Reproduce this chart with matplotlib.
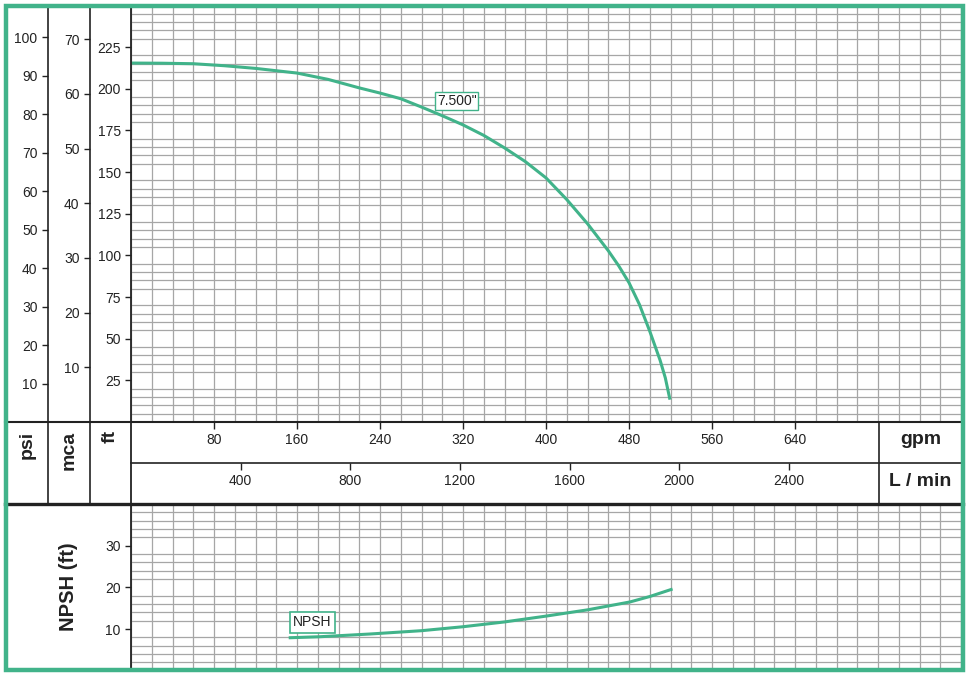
import numpy as np
import matplotlib.pyplot as plt
from matplotlib.lines import Line2D
from matplotlib.patches import Rectangle

plt.rcParams['font.family'] = ['Liberation Sans', 'DejaVu Sans']

# curva de altura (7.500") y NPSH
head_gpm = [0, 30, 60, 90, 120, 160, 190, 220, 240, 260, 280, 300, 320, 340, 360, 380, 400,
            420, 440, 460, 470, 480, 490, 500, 510, 515, 519.5]
head_ft = [215.4, 215.3, 215.0, 213.8, 212.2, 209.4, 205.6, 200.5, 197.4, 194.0, 189.0, 183.8,
           178.3, 172.0, 164.5, 156.3, 146.5, 133.5, 119.0, 102.8, 93.8, 83.6, 70.6, 54.5, 37.0,
           26.5, 13.4]
npsh_gpm = [152, 182, 230, 280, 320, 360, 400, 440, 481, 500, 522]
npsh_ft = [7.9, 8.15, 8.8, 9.6, 10.55, 11.7, 13.1, 14.6, 16.5, 17.8, 19.6]

gpm_ticks = [80, 160, 240, 320, 400, 480, 560, 640]
lmin_ticks = [400, 800, 1200, 1600, 2000, 2400]
psi_ticks = [10, 20, 30, 40, 50, 60, 70, 80, 90, 100]
mca_ticks = [10, 20, 30, 40, 50, 60, 70]
ft_ticks = [25, 50, 75, 100, 125, 150, 175, 200, 225]
npsh_ticks = [10, 20, 30]

GREEN = '#41b38a'
GRID = '#a6a6a6'
INK = '#222222'
W, H = 968, 676


def rect(l, t, r, b):
    return [l / W, 1 - b / H, (r - l) / W, (b - t) / H]


def hline(y, x0, x1, lw=1.0):
    fig.add_artist(Line2D([x0 / W, x1 / W], [1 - y / H, 1 - y / H], color=INK, lw=lw, zorder=5))


def vline(x, y0, y1, lw=1.0):
    fig.add_artist(Line2D([x / W, x / W], [1 - y0 / H, 1 - y1 / H], color=INK, lw=lw, zorder=5))


fig = plt.figure(figsize=(W / 100, H / 100), dpi=100)

# grafico principal (altura)
ax = fig.add_axes(rect(131, 5.4, 961, 422))
ax.plot(head_gpm, head_ft, color=GREEN, lw=2.2, solid_capstyle='butt', solid_joinstyle='round',
        zorder=3)
ax.set_xlim(0, 800)
ax.set_ylim(0, 250)
ax.set_xticks(np.arange(0, 801, 20), minor=True)
ax.set_yticks(np.arange(0, 251, 5), minor=True)
ax.grid(which='minor', color=GRID, lw=0.9)
ax.set_xticks([])
ax.set_yticks(ft_ticks)
ax.tick_params(axis='y', which='major', direction='out', length=4.3, width=1, pad=3, labelsize=10,
               colors=INK)
ax.tick_params(which='minor', length=0)
for s in ax.spines.values():
    s.set_visible(False)
ax.text(314, 192.6, '7.500"', fontsize=10, color=INK, ha='center', va='center',
        bbox=dict(boxstyle='square,pad=0.12', fc='white', ec=GREEN, lw=1))

# escalas psi y mca
for lft, rgt, top, ticks in [(48, 90, 250 / 2.31, psi_ticks), (90, 131, 250 / 3.281, mca_ticks)]:
    a = fig.add_axes(rect(lft, 5.4, rgt, 422))
    a.set_facecolor('none')
    a.set_ylim(0, top)
    a.set_xticks([])
    a.set_yticks(ticks)
    a.tick_params(axis='y', direction='out', length=4.3, width=1, pad=3.3, labelsize=10, colors=INK)
    for s in a.spines.values():
        s.set_visible(False)

# eje gpm
ag = fig.add_axes(rect(131, 422, 961, 463))
ag.set_facecolor('none')
ag.set_xlim(0, 800)
ag.set_ylim(0, 1)
ag.set_yticks([])
ag.set_xticks(gpm_ticks)
ag.tick_params(axis='x', top=True, bottom=False, labelbottom=False, direction='in', length=5,
               width=1, colors=INK)
for v in gpm_ticks:
    ag.text(v, 0.56, str(v), ha='center', va='center', fontsize=10, color=INK)
for s in ag.spines.values():
    s.set_visible(False)

# eje L/min
al = fig.add_axes(rect(131, 463, 961, 504))
al.set_facecolor('none')
al.set_xlim(0, 800 * 3.78541)
al.set_ylim(0, 1)
al.set_yticks([])
al.set_xticks(lmin_ticks)
al.tick_params(axis='x', top=True, bottom=False, labelbottom=False, direction='in', length=5,
               width=1, colors=INK)
for v in lmin_ticks:
    al.text(v, 0.56, str(v), ha='center', va='center', fontsize=10, color=INK)
for s in al.spines.values():
    s.set_visible(False)

# grafico NPSH
an = fig.add_axes(rect(131, 504, 961, 670.7))
an.plot(npsh_gpm, npsh_ft, color=GREEN, lw=2.2, solid_capstyle='butt', solid_joinstyle='round',
        zorder=3)
an.set_xlim(0, 800)
an.set_ylim(0, 40)
an.set_xticks(np.arange(0, 801, 20), minor=True)
an.set_yticks(np.arange(0, 41, 2), minor=True)
an.grid(which='minor', color=GRID, lw=0.9)
an.set_xticks([])
an.set_yticks(npsh_ticks)
an.tick_params(axis='y', which='major', direction='out', length=4.3, width=1, pad=3, labelsize=10,
               colors=INK)
an.tick_params(which='minor', length=0)
for s in an.spines.values():
    s.set_visible(False)
an.text(175, 11.6, 'NPSH', fontsize=10, color=INK, ha='center', va='center',
        bbox=dict(boxstyle='square,pad=0.25', fc='white', ec=GREEN, lw=1.2))

# lineas del marco
vline(48, 5, 504, 1.2)
vline(90, 5, 504, 1.2)
vline(131, 5, 671, 1.3)
vline(879, 422, 504, 1.2)
hline(421.5, 5, 963, 1.5)
hline(463, 131, 963, 1.2)
hline(504, 5, 963, 2.4)

# etiquetas
fig.text(27 / W, 1 - 431 / H, 'psi', rotation=90, ha='center', va='top', fontsize=14,
         fontweight='bold', color=INK)
fig.text(69 / W, 1 - 431 / H, 'mca', rotation=90, ha='center', va='top', fontsize=14,
         fontweight='bold', color=INK)
fig.text(110 / W, 1 - 430 / H, 'ft', rotation=90, ha='center', va='top', fontsize=14,
         fontweight='bold', color=INK)
fig.text(921 / W, 1 - 440 / H, 'gpm', ha='center', va='center', fontsize=14,
         fontweight='bold', color=INK)
fig.text(920 / W, 1 - 482 / H, 'L / min', ha='center', va='center', fontsize=14,
         fontweight='bold', color=INK)
fig.text(68 / W, 1 - 587 / H, 'NPSH (ft)', rotation=90, ha='center', va='center', fontsize=14.5,
         fontweight='bold', color=INK)

# borde verde
fig.add_artist(Rectangle((6 / W, 1 - 669.5 / H), 957 / W, 663.5 / H, transform=fig.transFigure,
                         fill=False, ec=GREEN, lw=3.2, zorder=10))

fig.savefig('out.png', dpi=100)
